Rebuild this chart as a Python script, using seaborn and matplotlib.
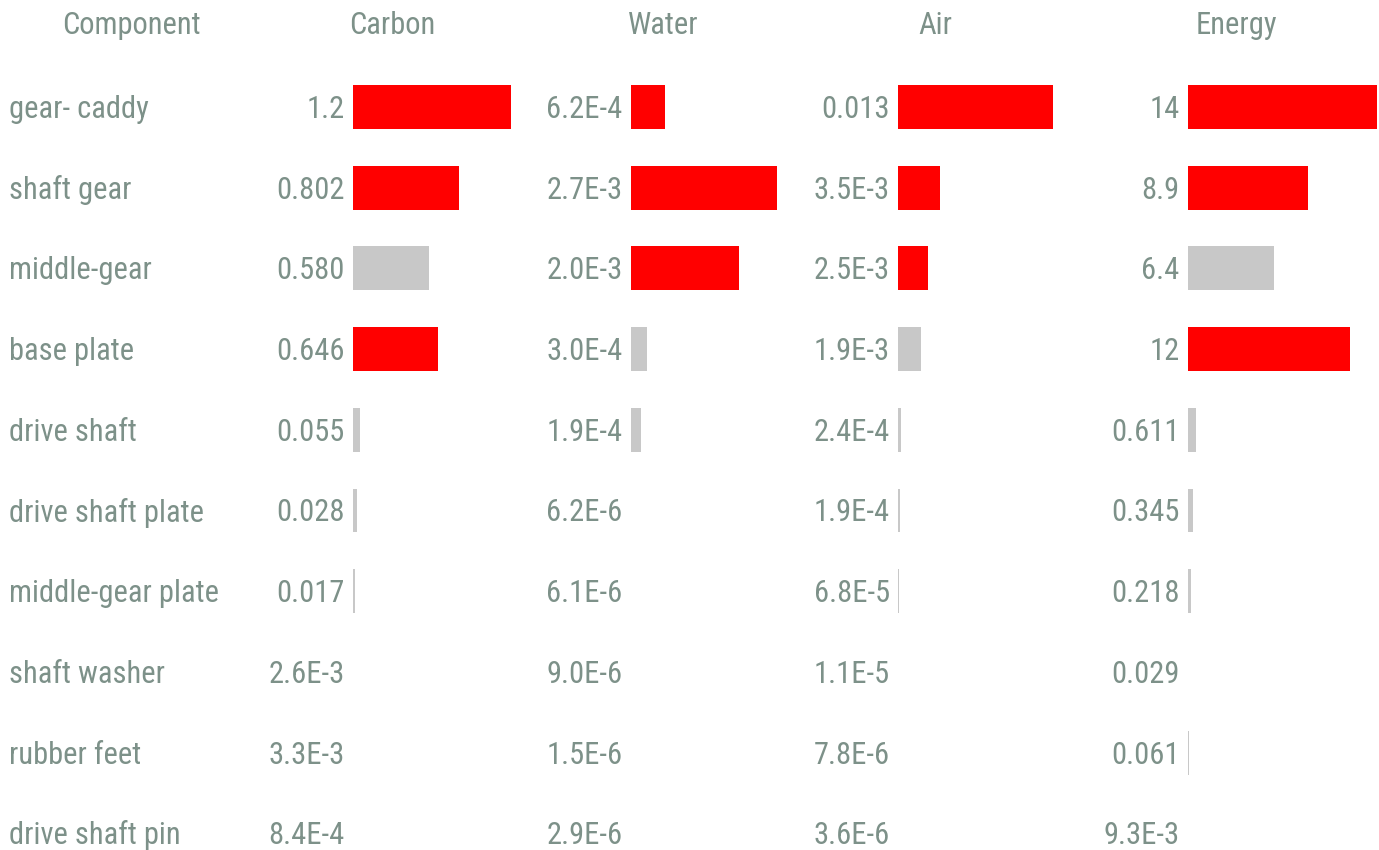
import matplotlib
matplotlib.use("Agg")
from matplotlib import pyplot as plt
import pandas as pd
import seaborn as sns

# data
components = ["gear- caddy", "shaft gear", "middle-gear", "base plate",
              "drive shaft", "drive shaft plate", "middle-gear plate",
              "shaft washer", "rubber feet", "drive shaft pin"]
carbon = [1.2, 0.802, 0.580, 0.646, 0.055, 0.028, 0.017, 2.6e-3, 3.3e-3, 8.4e-4]
water = [6.2e-4, 2.7e-3, 2.0e-3, 3.0e-4, 1.9e-4, 6.2e-6, 6.1e-6, 9.0e-6,
         1.5e-6, 2.9e-6]
air = [0.013, 3.5e-3, 2.5e-3, 1.9e-3, 2.4e-4, 1.9e-4, 6.8e-5, 1.1e-5,
       7.8e-6, 3.6e-6]
energy = [14, 8.9, 6.4, 12, 0.611, 0.345, 0.218, 0.029, 0.061, 9.3e-3]
carbon_lbl = ["1.2", "0.802", "0.580", "0.646", "0.055", "0.028", "0.017",
              "2.6E-3", "3.3E-3", "8.4E-4"]
water_lbl = ["6.2E-4", "2.7E-3", "2.0E-3", "3.0E-4", "1.9E-4", "6.2E-6",
             "6.1E-6", "9.0E-6", "1.5E-6", "2.9E-6"]
air_lbl = ["0.013", "3.5E-3", "2.5E-3", "1.9E-3", "2.4E-4", "1.9E-4",
           "6.8E-5", "1.1E-5", "7.8E-6", "3.6E-6"]
energy_lbl = ["14", "8.9", "6.4", "12", "0.611", "0.345", "0.218", "0.029",
              "0.061", "9.3E-3"]

TXT = "#7d9189"
RED = "#ff0000"
GREY = "#c8c8c8"
W, H = 1379, 850
FS = 22

sns.set_theme(style="white")
plt.rcParams["font.family"] = ["Roboto Condensed", "DejaVu Sans"]

fig = plt.figure(figsize=(W / 100, H / 100), dpi=100)

row_pitch = 80.7
top = 107 - row_pitch / 2
bottom = top + row_pitch * len(components)
BL = 11  # baseline below row centre, px

# (name, values, labels, bar left px, bar right px for max, header x)
cols = [("Carbon", carbon, carbon_lbl, 353, 511, 392),
        ("Water", water, water_lbl, 631, 777, 663),
        ("Air", air, air_lbl, 898, 1053, 935),
        ("Energy", energy, energy_lbl, 1188, 1377, 1236)]

for name, vals, lbls, x0, x1, hx in cols:
    df = pd.DataFrame({"component": components, "value": vals})
    # top 3 of each column in red
    top3 = sorted(vals, reverse=True)[:3]
    colors = [RED if v in top3 else GREY for v in vals]
    ax = fig.add_axes([x0 / W, 1 - bottom / H, (x1 - x0) / W,
                       (bottom - top) / H])
    sns.barplot(data=df, x="value", y="component", hue="component",
                palette=colors, legend=False, ax=ax, width=0.545,
                orient="h", linewidth=0, saturation=1)
    ax.set_xlim(0, max(vals))
    ax.set_ylim(len(components) - 0.5, -0.5)
    ax.axis("off")
    for i, t in enumerate(lbls):
        ax.annotate(t, xy=(0, i), xycoords=("axes fraction", "data"),
                    xytext=(-6, -BL * 0.72), textcoords="offset points",
                    ha="right", va="baseline", fontsize=FS, color=TXT)
    fig.text(hx / W, 1 - 26 / H, name, ha="center", va="center",
             fontsize=FS, color=TXT)

fig.text(131 / W, 1 - 26 / H, "Component", ha="center", va="center",
         fontsize=FS, color=TXT)
for i, c in enumerate(components):
    fig.text(9 / W, 1 - (107 + i * row_pitch + BL) / H, c,
             ha="left", va="baseline", fontsize=FS, color=TXT)

fig.savefig("out.png", dpi=100)
